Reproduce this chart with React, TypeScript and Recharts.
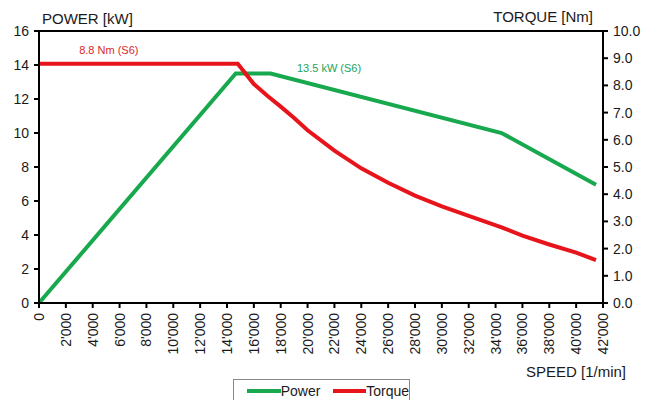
import React from 'react';
import {
  ComposedChart, Line, XAxis, YAxis, ReferenceLine, ReferenceDot, Legend, Label,
} from 'recharts';

const speedTicks = [0, 2000, 4000, 6000, 8000, 10000, 12000, 14000, 16000, 18000, 20000, 22000, 24000, 26000, 28000, 30000, 32000, 34000, 36000, 38000, 40000, 42000];
const powerTicks = [0, 2, 4, 6, 8, 10, 12, 14, 16];
const torqueTicks = [0, 1, 2, 3, 4, 5, 6, 7, 8, 9, 10];

const powerSpeed = [0, 14650, 17250, 34450, 41480];
const powerValues = [0, 13.5, 13.5, 10.0, 6.95];

const torqueSpeed = [0, 14800, 16000, 17000, 18000, 19000, 20000, 22000, 24000, 26000, 28000, 30000, 32000, 34450, 36000, 38000, 40000, 41480];
const torqueValues = [8.8, 8.8, 8.05, 7.62, 7.22, 6.8, 6.35, 5.6, 4.95, 4.42, 3.95, 3.55, 3.2, 2.78, 2.48, 2.15, 1.85, 1.58];

const powerData = powerSpeed.map((s, i) => ({ speed: s, power: powerValues[i] }));
const torqueData = torqueSpeed.map((s, i) => ({ speed: s, torque: torqueValues[i] }));

const GREEN = '#18A84E';
const RED = '#E8141B';
const FONT = '"Liberation Sans", Arial, sans-serif';
const TXT = '#1a1a1a';

const fmtSpeed = (v: number) => {
  if (v === 0) return '0';
  const t = Math.floor(v / 1000);
  return `${t}'000`;
};

const XTick = (props: any) => {
  const { x, y, payload } = props;
  return (
    <g transform={`translate(${x},${y})`}>
      <text transform="rotate(-90)" x={0} y={0} dy="0.36em" textAnchor="end" fontSize={14} fill={TXT} fontFamily={FONT}>
        {fmtSpeed(payload.value)}
      </text>
    </g>
  );
};

const LegendContent = () => (
  <div style={{ width: 177, height: 24, border: '1px solid #888', boxSizing: 'border-box', background: '#fff', fontFamily: FONT, fontSize: 14, color: TXT, display: 'flex', alignItems: 'center' }}>
    <span style={{ display: 'inline-block', width: 34, height: 4, background: GREEN, marginLeft: 13 }} />
    <span style={{ marginLeft: 0 }}>Power</span>
    <span style={{ display: 'inline-block', width: 33, height: 4, background: RED, marginLeft: 13 }} />
    <span style={{ marginLeft: 0 }}>Torque</span>
  </div>
);

export default function App() {
  return (
    <div style={{ position: 'absolute', left: 0, top: 0, width: 656, height: 400, background: '#fff' }}>
      <ComposedChart width={656} height={400} margin={{ top: 31, right: 0, bottom: 37, left: 0 }}>
        <XAxis
          dataKey="speed"
          type="number"
          domain={[0, 42000]}
          ticks={speedTicks}
          allowDataOverflow
          stroke="#000"
          strokeWidth={2}
          tickSize={5}
          tickMargin={5}
          tick={<XTick />}
          height={60}
          interval={0}
        >
          <Label
            content={(p: any) => {
              const vb = p.viewBox;
              return (
                <text x={vb.x + vb.width + 23} y={vb.y + 74} textAnchor="end" fontSize={15} fill={TXT} fontFamily={FONT}>SPEED [1/min]</text>
              );
            }}
          />
        </XAxis>
        <YAxis
          yAxisId="power"
          orientation="left"
          domain={[0, 16]}
          ticks={powerTicks}
          width={39}
          stroke="#000"
          strokeWidth={2}
          tickSize={5}
          tickMargin={5}
          tick={{ fontSize: 14, fill: TXT, fontFamily: FONT }}
          interval={0}
        >
          <Label
            content={(p: any) => {
              const vb = p.viewBox;
              return (
                <text x={vb.x + vb.width + 3} y={vb.y - 7} textAnchor="start" fontSize={15} fill={TXT} fontFamily={FONT}>POWER [kW]</text>
              );
            }}
          />
        </YAxis>
        <YAxis
          yAxisId="torque"
          orientation="right"
          domain={[0, 10]}
          ticks={torqueTicks}
          width={53}
          stroke="#000"
          strokeWidth={2}
          tickSize={5}
          tickMargin={5}
          tickFormatter={(v: number) => v.toFixed(1)}
          tick={{ fontSize: 14, fill: TXT, fontFamily: FONT }}
          interval={0}
        >
          <Label
            content={(p: any) => {
              const vb = p.viewBox;
              return (
                <text x={vb.x - 10} y={vb.y - 9} textAnchor="end" fontSize={15} fill={TXT} fontFamily={FONT}>TORQUE [Nm]</text>
              );
            }}
          />
        </YAxis>
        <ReferenceLine yAxisId="power" y={16} stroke="#000" strokeWidth={2} />
        <Line
          yAxisId="power"
          data={powerData}
          dataKey="power"
          type="linear"
          stroke={GREEN}
          strokeWidth={4}
          dot={false}
          isAnimationActive={false}
          name="Power"
        />
        <Line
          yAxisId="torque"
          data={torqueData}
          dataKey="torque"
          type="linear"
          stroke={RED}
          strokeWidth={4}
          dot={false}
          isAnimationActive={false}
          name="Torque"
        />
        <ReferenceDot yAxisId="torque" x={5200} y={8.8} r={0} fill="none" stroke="none">
          <Label value="8.8 Nm (S6)" position="top" offset={10} fontSize={11} fill="#D8282D" fontFamily={FONT} />
        </ReferenceDot>
        <ReferenceDot yAxisId="power" x={21600} y={13.5} r={0} fill="none" stroke="none">
          <Label value="13.5 kW (S6)" position="top" offset={2} fontSize={11} fill="#23A35A" fontFamily={FONT} />
        </ReferenceDot>
        <Legend
          verticalAlign="middle"
          align="center"
          layout="horizontal"
          content={<LegendContent />}
          wrapperStyle={{ position: 'absolute', left: 233, top: 379, width: 177, height: 24 }}
        />
      </ComposedChart>
    </div>
  );
}
